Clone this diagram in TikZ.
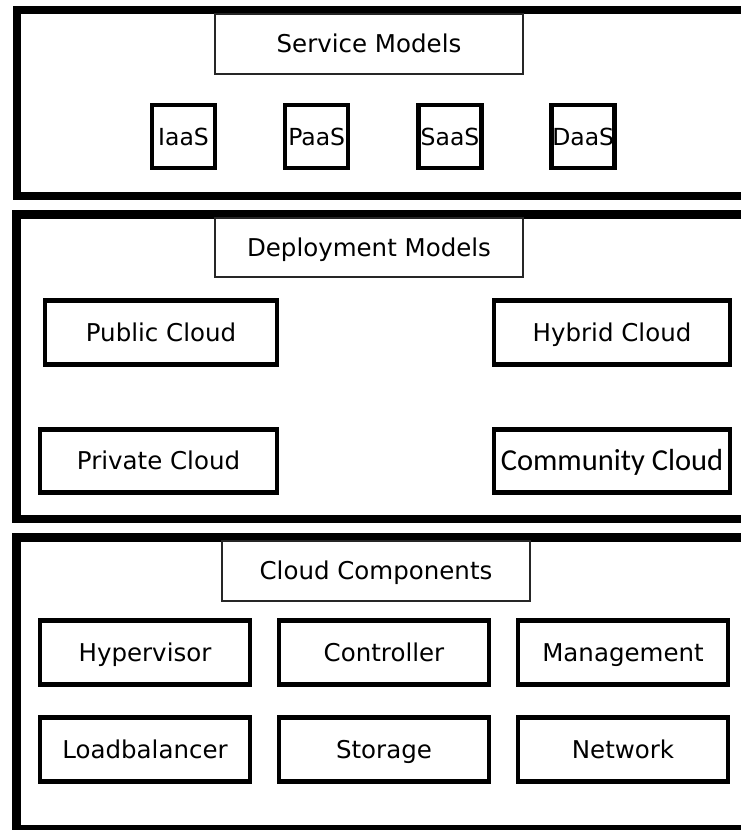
\documentclass[tikz,border=0pt]{standalone}
\usepackage{fontspec}
\setmainfont{DejaVu Sans}
\newfontfamily\carlitofont{Carlito}
\begin{document}
\begin{tikzpicture}[x=1pt,y=-1pt,
  panel/.style={line width=8.5pt,line join=miter},
  labelfont/.style={font=\fontsize{24.5}{28}\selectfont,
    text height=17.9pt,text depth=0pt},
  titlebox/.style={draw=black!85,line width=1.2pt,inner sep=0pt,labelfont},
  itembox/.style={draw,line width=4.5pt,inner sep=0pt,labelfont},
  svcbox/.style={itembox,minimum width=63pt,minimum height=63pt,
    font=\fontsize{23.5}{28}\selectfont,text height=17.2pt}]
\useasboundingbox (0,0) rectangle (741,830);
\clip (0,0) rectangle (741,830);

% Three layer panels, open to the right
\draw[panel] (760,10) -- (17,10) -- (17,196) -- (760,196);
\draw[panel] (760,214.5) -- (16.5,214.5) -- (16.5,519) -- (760,519);
\draw[panel] (760,537.5) -- (16.5,537.5) -- (16.5,829.5) -- (760,829.5);

% Service models layer
\node[titlebox,minimum width=308pt,minimum height=60pt] (svc) at (369,44) {Service Models};
\node[svcbox] (iaas) at (183.5,136.5) {IaaS};
\node[svcbox] (paas) at (316.7,136.5) {PaaS};
\node[svcbox] (saas) at (450,136.5) {SaaS};
\node[svcbox] (daas) at (583.2,136.5) {DaaS};

% Deployment models layer
\node[titlebox,minimum width=308pt,minimum height=59pt] (dep) at (369,247.5) {Deployment Models};
\node[itembox,minimum width=232pt,minimum height=64pt] (public) at (161,332.5) {Public Cloud};
\node[itembox,minimum width=237pt,minimum height=63pt] (private) at (158.5,461) {Private Cloud};
\node[itembox,minimum width=236pt,minimum height=64pt] (hybrid) at (612,332.5) {Hybrid Cloud};
\node[itembox,minimum width=236pt,minimum height=63pt,
  font=\carlitofont\fontsize{30.5}{34}\selectfont,text height=19.6pt] (community) at (612,461) {Community Cloud};

% Cloud components layer
\node[titlebox,minimum width=308pt,minimum height=60pt] (comp) at (376,571) {Cloud Components};
\node[itembox,minimum width=210pt,minimum height=64pt] (hyper) at (145,652.5) {Hypervisor};
\node[itembox,minimum width=210pt,minimum height=64pt] (ctrl) at (384,652.5) {Controller};
\node[itembox,minimum width=210pt,minimum height=64pt] (mgmt) at (623,652.5) {Management};
\node[itembox,minimum width=210pt,minimum height=64pt] (lb) at (145,749.5) {Loadbalancer};
\node[itembox,minimum width=210pt,minimum height=64pt] (stor) at (384,749.5) {Storage};
\node[itembox,minimum width=210pt,minimum height=64pt] (net) at (623,749.5) {Network};
\end{tikzpicture}
\end{document}
